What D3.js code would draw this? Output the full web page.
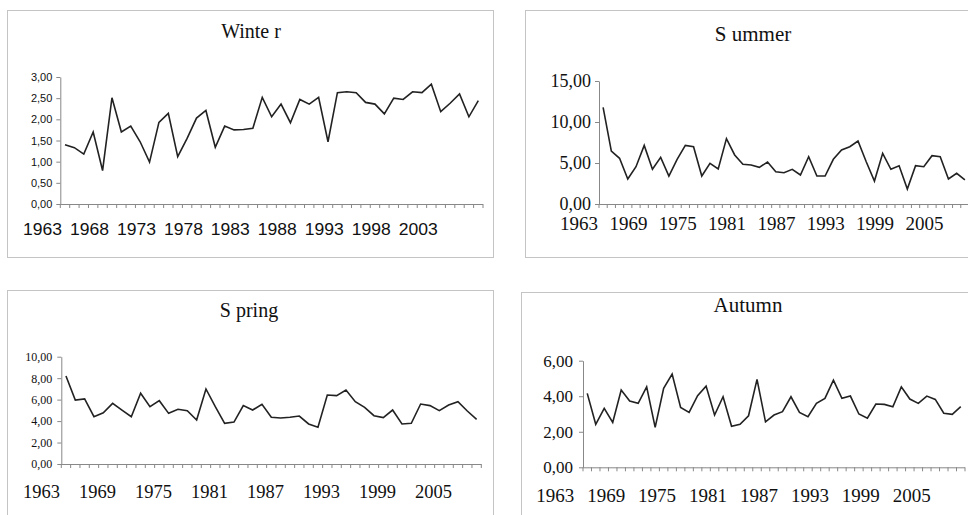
<!DOCTYPE html>
<html>
<head>
<meta charset="utf-8">
<script src="https://cdn.jsdelivr.net/npm/d3@7/dist/d3.min.js"></script>
<style>
  html, body { margin: 0; padding: 0; background: #fff; }
  svg { display: block; }
</style>
</head>
<body>
<svg id="chart" width="968" height="515"></svg>
<script>
// ---------- DATA ----------
const years = d3.range(1963, 2008).map(String); // 45 categories

const winterValues = [1.40,1.33,1.18,1.70,0.79,2.51,1.70,1.84,1.47,0.99,1.93,2.14,1.12,1.55,2.03,2.21,1.34,1.84,1.75,1.76,1.79,2.52,2.06,
  2.36,1.92,2.47,2.36,2.52,1.47,2.63,2.65,2.63,2.40,2.36,2.13,2.50,2.47,2.65,2.63,2.83,2.18,2.38,2.60,2.06,2.44];

const summerValues = [11.79,6.46,5.57,3.05,4.55,7.15,4.23,5.69,3.41,5.45,7.15,6.99,3.41,4.96,4.27,7.97,5.98,4.84,4.76,4.47,5.12,3.94,3.82,
  4.23,3.54,5.77,3.41,3.41,5.45,6.59,6.99,7.68,5.16,2.80,6.18,4.23,4.67,1.83,4.67,4.55,5.89,5.77,3.05,3.74,2.93];

const springValues = [8.20,5.96,6.06,4.41,4.78,5.65,5.03,4.41,6.59,5.34,5.90,4.72,5.10,4.97,4.10,6.99,5.34,3.79,3.91,5.44,5.03,5.56,4.35,
  4.29,4.35,4.47,3.73,3.42,6.43,6.37,6.90,5.81,5.28,4.50,4.32,5.03,3.73,3.79,5.59,5.44,4.97,5.50,5.81,4.94,4.16];

const autumnValues = [4.16,2.42,3.32,2.53,4.35,3.73,3.60,4.53,2.25,4.44,5.25,3.37,3.09,4.03,4.57,2.94,3.97,2.31,2.42,2.90,4.95,2.56,2.94,
  3.13,3.97,3.09,2.85,3.60,3.88,4.91,3.88,4.01,3.00,2.76,3.56,3.54,3.41,4.53,3.84,3.60,4.01,3.82,3.04,2.98,3.41];

const titles = ["Winte r", "S ummer", "S pring", "Autumn"];
const winterTicks = [0, 0.5, 1, 1.5, 2, 2.5, 3];
const summerTicks = [0, 5, 10, 15];
const springTicks = [0, 2, 4, 6, 8, 10];
const autumnTicks = [0, 2, 4, 6];
const winterLabelYears = ["1963","1968","1973","1978","1983","1988","1993","1998","2003"];
const sixYearLabels = ["1963","1969","1975","1981","1987","1993","1999","2005"];

// ---------- LAYOUT ----------
const SANS = "'Liberation Sans', Arial, sans-serif";
const SERIF = "'Liberation Serif', 'Times New Roman', serif";
const panels = [
  { title: titles[0], values: winterValues, ticks: winterTicks, labels: winterLabelYears,
    box: [7, 10, 486, 247], x0: 60.3, x1: 483, y0: 204, y1: 77, ymax: 3,
    titleX: 251, titleY: 38, titleSize: 20,
    yFont: SANS, ySize: 11, yGap: 8,
    xFont: SANS, xSize: 16, xLen: 39, xLabelY: 235, xDx: -3 },
  { title: titles[1], values: summerValues, ticks: summerTicks, labels: sixYearLabels,
    box: [525, 10, 460, 247], x0: 599, x1: 969, y0: 204, y1: 81, ymax: 15,
    titleX: 753, titleY: 41, titleSize: 21,
    yFont: SERIF, ySize: 18, yGap: 8,
    xFont: SERIF, xSize: 18, xLen: 38, xLabelY: 230, xDx: -5 },
  { title: titles[2], values: springValues, ticks: springTicks, labels: sixYearLabels,
    box: [7, 290, 486, 240], x0: 61.3, x1: 481.3, y0: 464, y1: 356.7, ymax: 10,
    titleX: 249, titleY: 317, titleSize: 20,
    yFont: SERIF, ySize: 12, yGap: 9,
    xFont: SERIF, xSize: 18, xLen: 37, xLabelY: 498, xDx: -6 },
  { title: titles[3], values: autumnValues, ticks: autumnTicks, labels: sixYearLabels,
    box: [521, 292, 460, 240], x0: 583, x1: 965, y0: 467.3, y1: 360.7, ymax: 6,
    titleX: 748, titleY: 312, titleSize: 21,
    yFont: SERIF, ySize: 17, yGap: 10,
    xFont: SERIF, xSize: 18, xLen: 38, xLabelY: 502, xDx: -13 }
];

const fmt = d3.formatLocale({ decimal: ",", thousands: ".", grouping: [3], currency: ["", ""] }).format(".2f");
const svg = d3.select("#chart");

panels.forEach(p => {
  const g = svg.append("g");
  // panel border
  g.append("rect")
    .attr("x", p.box[0] + 0.5).attr("y", p.box[1] + 0.5)
    .attr("width", p.box[2]).attr("height", p.box[3])
    .attr("fill", "#fff").attr("stroke", "#c4c4c4").attr("stroke-width", 1);

  // title
  g.append("text")
    .attr("x", p.titleX).attr("y", p.titleY)
    .attr("text-anchor", "middle")
    .attr("font-family", SERIF)
    .attr("font-size", p.titleSize)
    .attr("fill", "#111")
    .text(p.title);

  const x = d3.scaleBand().domain(years).range([p.x0, p.x1]).padding(0);
  const y = d3.scaleLinear().domain([0, p.ymax]).range([p.y0, p.y1]);

  // y axis
  const yAxis = g.append("g")
    .attr("transform", `translate(${p.x0},0)`)
    .call(d3.axisLeft(y).tickValues(p.ticks).tickSize(4).tickSizeOuter(0).tickFormat(fmt).tickPadding(p.yGap - 4));
  yAxis.select(".domain").attr("stroke", "#888");
  yAxis.selectAll(".tick line").attr("stroke", "#888");
  yAxis.selectAll(".tick text")
    .attr("font-family", p.yFont).attr("font-size", p.ySize).attr("fill", "#111");

  // x axis line
  g.append("line")
    .attr("x1", p.x0).attr("x2", p.x1)
    .attr("y1", p.y0 + 0.5).attr("y2", p.y0 + 0.5)
    .attr("stroke", "#888");
  // tick marks at category boundaries
  const bounds = years.map(d => x(d)).concat([x(years[years.length - 1]) + x.bandwidth()]);
  g.selectAll("line.xt").data(bounds).join("line")
    .attr("class", "xt")
    .attr("x1", d => d).attr("x2", d => d)
    .attr("y1", p.y0).attr("y2", p.y0 + 4)
    .attr("stroke", "#888");
  // x labels
  g.selectAll("text.xl").data(p.labels).join("text")
    .attr("class", "xl")
    .attr("x", d => x(d) + x.bandwidth() / 2 + p.xDx)
    .attr("y", p.xLabelY)
    .attr("text-anchor", "end")
    .attr("font-family", p.xFont).attr("font-size", p.xSize).attr("fill", "#111")
    .attr("textLength", p.xLen).attr("lengthAdjust", "spacingAndGlyphs")
    .text(d => d);

  // line
  const line = d3.line()
    .x((d, i) => x(years[i]) + x.bandwidth() / 2)
    .y(d => y(d));
  g.append("path")
    .datum(p.values)
    .attr("d", line)
    .attr("fill", "none")
    .attr("stroke", "#222")
    .attr("stroke-width", 1.6)
    .attr("stroke-linejoin", "miter");
});
</script>
</body>
</html>
